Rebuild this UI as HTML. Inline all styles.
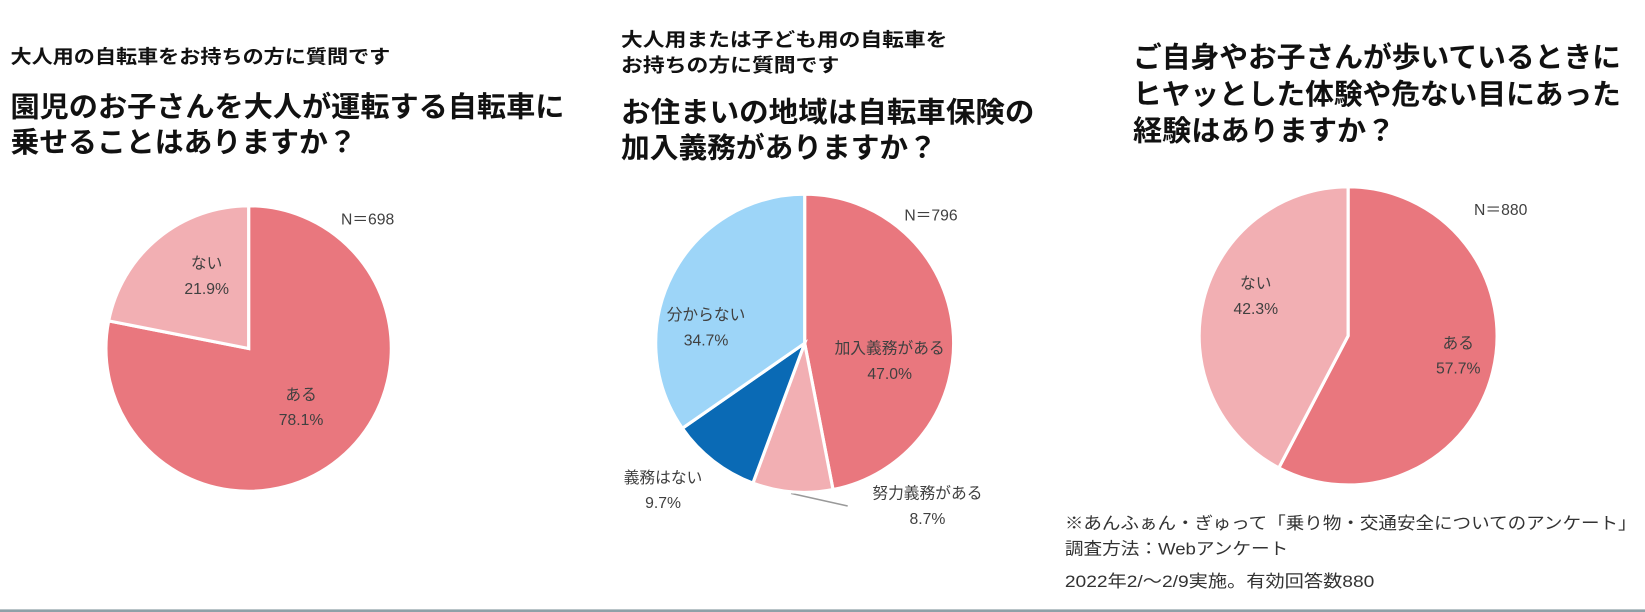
<!DOCTYPE html>
<html><head><meta charset="utf-8"><style>
body{margin:0;background:#fff;}
svg{display:block;font-family:"Liberation Sans","Noto Sans CJK JP",sans-serif;}
.t{font-weight:bold;fill:#111;}
.l{fill:#404040;font-size:15px;}
</style></head><body>
<svg id="c" width="1645" height="612" viewBox="0 0 1568 583" preserveAspectRatio="none">
<g>
<text class="t" x="10" y="60" font-size="18" textLength="362" lengthAdjust="spacingAndGlyphs">大人用の自転車をお持ちの方に質問です</text>
<text class="t" x="10" y="111" font-size="27" textLength="528" lengthAdjust="spacingAndGlyphs">園児のお子さんを大人が運転する自転車に</text>
<text class="t" x="10" y="145" font-size="27" textLength="330" lengthAdjust="spacingAndGlyphs">乗せることはありますか？</text>
</g>
<g>
<text class="t" x="592" y="44" font-size="18" textLength="311" lengthAdjust="spacingAndGlyphs">大人用または子ども用の自転車を</text>
<text class="t" x="592" y="68" font-size="18" textLength="208" lengthAdjust="spacingAndGlyphs">お持ちの方に質問です</text>
<text class="t" x="592" y="116" font-size="27" textLength="394" lengthAdjust="spacingAndGlyphs">お住まいの地域は自転車保険の</text>
<text class="t" x="592" y="150" font-size="27" textLength="301" lengthAdjust="spacingAndGlyphs">加入義務がありますか？</text>
</g>
<g>
<text class="t" x="1080" y="64" font-size="27" textLength="465" lengthAdjust="spacingAndGlyphs">ご自身やお子さんが歩いているときに</text>
<text class="t" x="1080" y="99" font-size="27" textLength="465" lengthAdjust="spacingAndGlyphs">ヒヤッとした体験や危ない目にあった</text>
<text class="t" x="1080" y="134" font-size="27" textLength="250" lengthAdjust="spacingAndGlyphs">経験はありますか？</text>
</g>
<text class="l" x="325" y="214">N＝698</text>
<text class="l" x="862" y="210">N＝796</text>
<text class="l" x="1405" y="205">N＝880</text>
<g>
<text x="1015" y="504" font-size="16" fill="#333" textLength="545" lengthAdjust="spacingAndGlyphs">※あんふぁん・ぎゅって「乗り物・交通安全についてのアンケート」</text>
<text x="1015" y="528" font-size="16" fill="#333" textLength="213" lengthAdjust="spacingAndGlyphs">調査方法：Webアンケート</text>
<text x="1015" y="559" font-size="16" fill="#333" textLength="295" lengthAdjust="spacingAndGlyphs">2022年2/～2/9実施。有効回答数880</text>
</g>
<line x1="754" y1="470" x2="808" y2="482" stroke="#999" stroke-width="1.5"/>
<rect x="0" y="580.5" width="1568" height="2.5" fill="#8fa1a8"/>
</svg>
<script>
const pie1Labels=["ある","ない"];
const pie1Values=[78.1,21.9];
const pie2Labels=["加入義務がある","努力義務がある","義務はない","分からない"];
const pie2Values=[47.0,8.7,9.7,34.7];
const pie3Labels=["ある","ない"];
const pie3Values=[57.7,42.3];
const svg=document.getElementById('c');
const NS="http://www.w3.org/2000/svg";
function pie(name,cx,cy,r,labels,values,colors,labelPos){
  const total=values.reduce((a,b)=>a+b,0);
  let a0=0;
  const g=document.createElementNS(NS,'g');
  
  
  svg.appendChild(g);
  values.forEach((v,i)=>{
    const a1=a0+v/total*2*Math.PI;
    const x0=cx+r*Math.sin(a0),y0=cy-r*Math.cos(a0);
    const x1=cx+r*Math.sin(a1),y1=cy-r*Math.cos(a1);
    const p=document.createElementNS(NS,'path');
    p.setAttribute('d',`M${cx},${cy}L${x0},${y0}A${r},${r} 0 ${a1-a0>Math.PI?1:0} 1 ${x1},${y1}Z`);
    p.setAttribute('fill',colors[i]);
    p.setAttribute('stroke','#fff');
    p.setAttribute('stroke-width','3');
    
    
    g.appendChild(p);
    const am=(a0+a1)/2;
    const lp=labelPos[i];
    const lx=lp?lp[0]:cx+r*0.62*Math.sin(am);
    const ly=lp?lp[1]:cy-r*0.62*Math.cos(am);
    const t=document.createElementNS(NS,'text');
    t.setAttribute('class','l');
    t.setAttribute('text-anchor','middle');
    t.setAttribute('x',lx);t.setAttribute('y',ly);
    
    
    t.textContent=labels[i];
    g.appendChild(t);
    const t2=document.createElementNS(NS,'text');
    t2.setAttribute('class','l');
    t2.setAttribute('text-anchor','middle');
    t2.setAttribute('x',lx);t2.setAttribute('y',ly+24);
    
    
    t2.textContent=values[i].toFixed(1)+'%';
    g.appendChild(t2);
    a0=a1;
  });
}
const PINK="#e9777e",LPINK="#f2afb3",LBLUE="#9dd5f8",DBLUE="#0a6ab5";
pie('chart1-pie',237,332,136,pie1Labels,pie1Values,[PINK,LPINK],[[287,381],[197,256]]);
pie('chart2-pie',767,327,142,pie2Labels,pie2Values,[PINK,LPINK,DBLUE,LBLUE],[[848,337],[884,475],[632,460],[673,305]]);
pie('chart3-pie',1285,320,142,pie3Labels,pie3Values,[PINK,LPINK],[[1390,332],[1197,275]]);
</script>
</body></html>
